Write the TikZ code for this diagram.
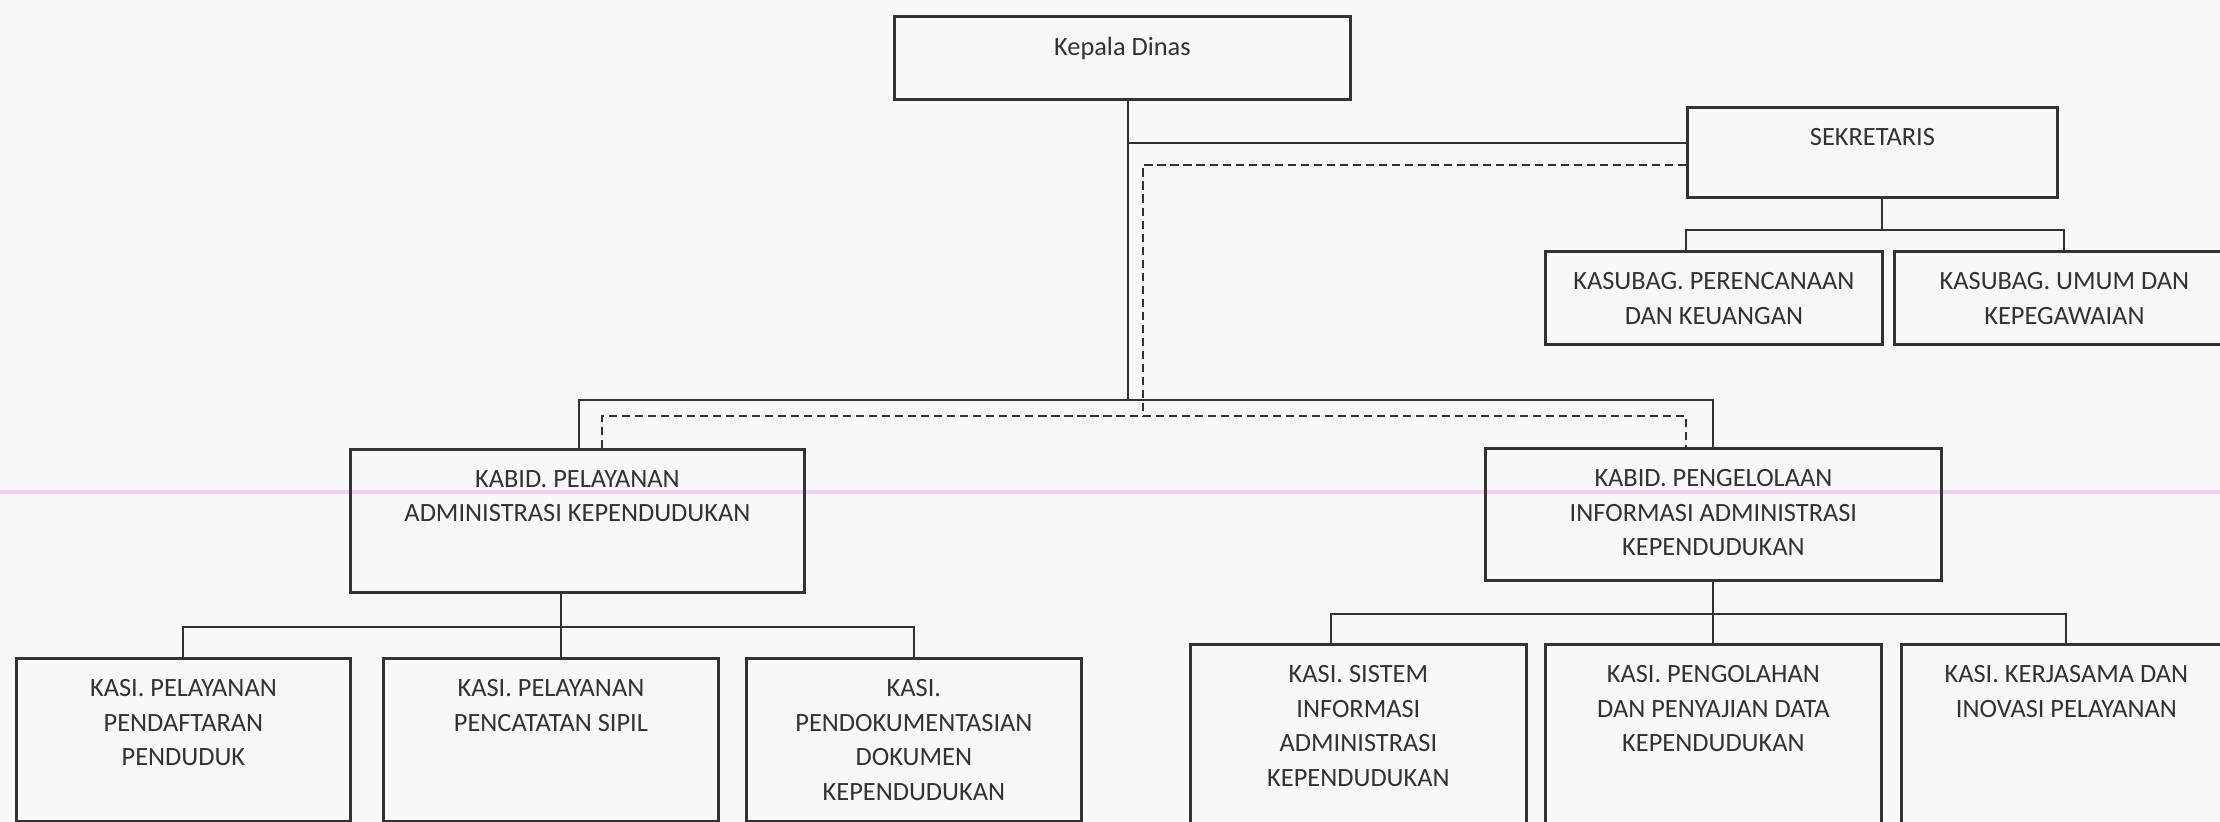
\documentclass[tikz,border=0pt]{standalone}
\usepackage{fontspec}
\setmainfont{Carlito}
\usepackage{xcolor}
\usepackage{tikz}
\definecolor{tinta}{RGB}{50,50,50}
\definecolor{kertas}{RGB}{248,248,250}
\definecolor{garisscan}{RGB}{242,205,242}

\begin{document}
\begin{tikzpicture}[x=0.01cm, y=-0.01cm,
    kotak/.style 2 args={draw=tinta, line width=0.8pt, anchor=north west,
        inner sep=0pt, minimum width=#1*0.01cm, minimum height=#2*0.01cm},
    teks/.style={anchor=north, yshift=-0.215cm, align=center, inner sep=0pt,
        text=tinta, font=\fontsize{7.5}{9.9}\selectfont},
    garis/.style={draw=tinta, line width=0.6pt},
    putus/.style={draw=tinta, line width=0.7pt, dash pattern=on 2.3pt off 1.4pt}]
            \useasboundingbox (0,0) rectangle (2220,822);
            \clip (0,0) rectangle (2220,822);
            \fill[kertas] (0,0) rectangle (2220,822);
            \fill[garisscan] (0,490) rectangle (2220,494);
            % Pimpinan dan sekretariat
                        \node[kotak={456}{83}, label={[teks]north:Kepala Dinas}] (kadis) at (893,15) {};
                        \node[kotak={370}{90}, label={[teks]north:SEKRETARIS}] (sekre) at (1686,106) {};
                        \node[kotak={337}{93}, label={[teks]north:KASUBAG. PERENCANAAN\\DAN KEUANGAN}] (ksPer) at (1544,250) {};
                        \node[kotak={340}{93}, label={[teks]north:KASUBAG. UMUM DAN\\KEPEGAWAIAN}] (ksUmum) at (1893,250) {};
            % Bidang
                        \node[kotak={454}{143}, label={[teks]north:KABID. PELAYANAN\\ADMINISTRASI KEPENDUDUKAN}] (kabidPel) at (349,448) {};
                        \node[kotak={456}{132}, label={[teks]north:KABID. PENGELOLAAN\\INFORMASI ADMINISTRASI\\KEPENDUDUKAN}] (kabidInfo) at (1484,447) {};
            % Seksi
                        \node[kotak={334}{163}, label={[teks]north:KASI. PELAYANAN\\PENDAFTARAN\\PENDUDUK}] (kasi1) at (15,657) {};
                        \node[kotak={335}{163}, label={[teks]north:KASI. PELAYANAN\\PENCATATAN SIPIL}] (kasi2) at (382,657) {};
                        \node[kotak={335}{163}, label={[teks]north:KASI.\\PENDOKUMENTASIAN\\DOKUMEN\\KEPENDUDUKAN}] (kasi3) at (745,657) {};
                        \node[kotak={336}{200}, label={[teks]north:KASI. SISTEM\\INFORMASI\\ADMINISTRASI\\KEPENDUDUKAN}] (kasi4) at (1189,643) {};
                        \node[kotak={336}{200}, label={[teks]north:KASI. PENGOLAHAN\\DAN PENYAJIAN DATA\\KEPENDUDUKAN}] (kasi5) at (1544,643) {};
                        \node[kotak={330}{200}, label={[teks]north:KASI. KERJASAMA DAN\\INOVASI PELAYANAN}] (kasi6) at (1900,643) {};
            % Garis komando
                        \coordinate (cabang) at (1128,143);
                        \coordinate (tengah) at (1128,400);
                        \draw[garis] (kadis.south -| tengah) -- (tengah);
                        \draw[garis] (cabang) -- (cabang -| sekre.west);
                        \draw[garis] (kabidPel.north -| 579,0) |- (tengah) -| (kabidInfo.north);
                        \coordinate (busSek) at (1882,230);
                        \draw[garis] (sekre.south -| busSek) -- (busSek);
                        \draw[garis] (ksPer.north -| sekre.west) |- (busSek) -| (ksUmum.north);
                        \coordinate (busPel) at (561,627);
                        \draw[garis] (kabidPel.south -| busPel) -- (kasi2.north -| busPel);
                        \draw[garis] (kasi1.north) |- (busPel) -| (kasi3.north);
                        \coordinate (busInfo) at (1331,614);
                        \draw[garis] (kabidInfo.south) -- (kasi5.north);
                        \draw[garis] (busInfo |- kasi4.north) -- (busInfo) -| (kasi6.north);
            % Garis koordinasi
                        \coordinate (sambung) at (1143,165);
                        \coordinate (dashKiri) at (602,416);
                        \coordinate (dashKanan) at (1686,416);
                        \draw[putus] (sambung -| sekre.west) -- (sambung) -- (sambung |- dashKiri);
                        \draw[putus] (dashKiri |- kabidPel.north) -- (dashKiri) -- (dashKanan) -- (dashKanan |- kabidInfo.north);
        \end{tikzpicture}
\end{document}
